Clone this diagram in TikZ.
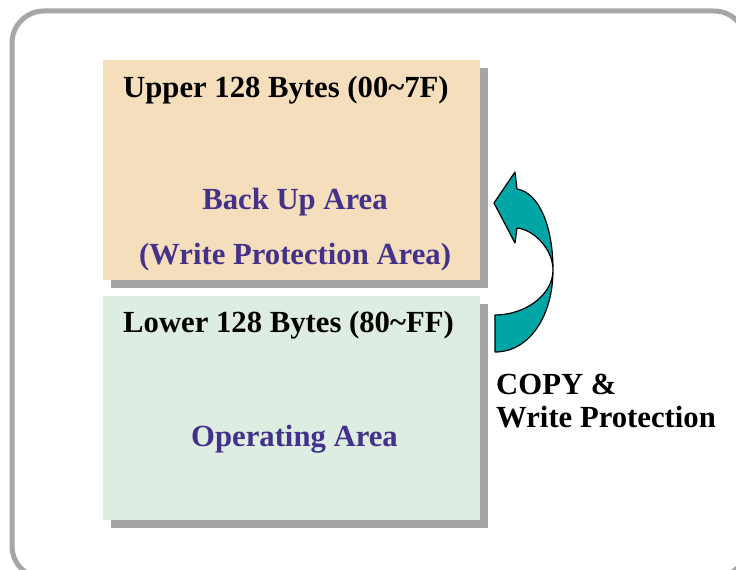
\documentclass[tikz,border=0pt]{standalone}
\usepackage{fontspec}
\setmainfont{Liberation Serif}
\usetikzlibrary{shadows}

\definecolor{upperfill}{HTML}{F5DEBB}
\definecolor{lowerfill}{HTML}{DDEDE1}
\definecolor{shadowgray}{HTML}{A5A5A5}
\definecolor{framegray}{HTML}{A6A6A6}
\definecolor{areapurple}{HTML}{43318A}
\definecolor{copyteal}{HTML}{00A6A6}

\tikzset{
  area/.style={inner sep=0pt, outer sep=0pt, anchor=south west,
    minimum width=377pt, minimum height=220pt,
    drop shadow={shadow xshift=8pt, shadow yshift=-8pt, fill=shadowgray, opacity=1}},
  boxtext/.style={inner sep=0pt, font=\fontsize{30.7}{36}\selectfont\bfseries},
  halftitle/.style={boxtext, anchor=base west, text=black},
  areaname/.style={boxtext, anchor=base, text=areapurple}
}

\begin{document}
\begin{tikzpicture}[x=1pt,y=1pt]
    \useasboundingbox (0,0) rectangle (736,570);
    \clip (0,0) rectangle (736,570);
    \draw[line width=5pt, framegray, rounded corners=32pt] (12,-8) rectangle (746,559);

    % memory halves
    \node[area, fill=upperfill] (upper) at (103,290) {};
    \node[area, fill=lowerfill, minimum height=224pt] (lower) at (103,50) {};

    \node[halftitle] (uppertitle) at (123,472) {Upper 128 Bytes (00\textasciitilde 7F)};
    \node[areaname] (backup) at (295,360) {Back Up Area};
    \node[areaname] (protect) at (295,305) {(Write Protection Area)};
    \node[halftitle] (lowertitle) at (123,237) {Lower 128 Bytes (80\textasciitilde FF)};
    \node[areaname] (operating) at (294.5,123) {Operating Area};

    % copy arrow
    \coordinate (tailbot) at (495,218);
    \coordinate (tailtop) at (495,255);
    \coordinate (pinch) at (553,300);
    \coordinate (tip) at (494,367);
    \filldraw[fill=copyteal, draw=black, line width=1.2pt, line join=round]
        (tailbot) .. controls (530,218) and (553,255) .. (pinch)
        .. controls (553,342) and (540,377) .. (517,381)
        -- (515,398) -- (tip) -- (515,327) -- (517,342)
        .. controls (535,340) and (553,320) .. (pinch)
        .. controls (553,275) and (525,255) .. (tailtop) -- cycle;

    \node[halftitle] (copy) at (496,175) {COPY \&};
    \node[halftitle] (wp) at (496,142) {Write Protection};
\end{tikzpicture}
\end{document}
